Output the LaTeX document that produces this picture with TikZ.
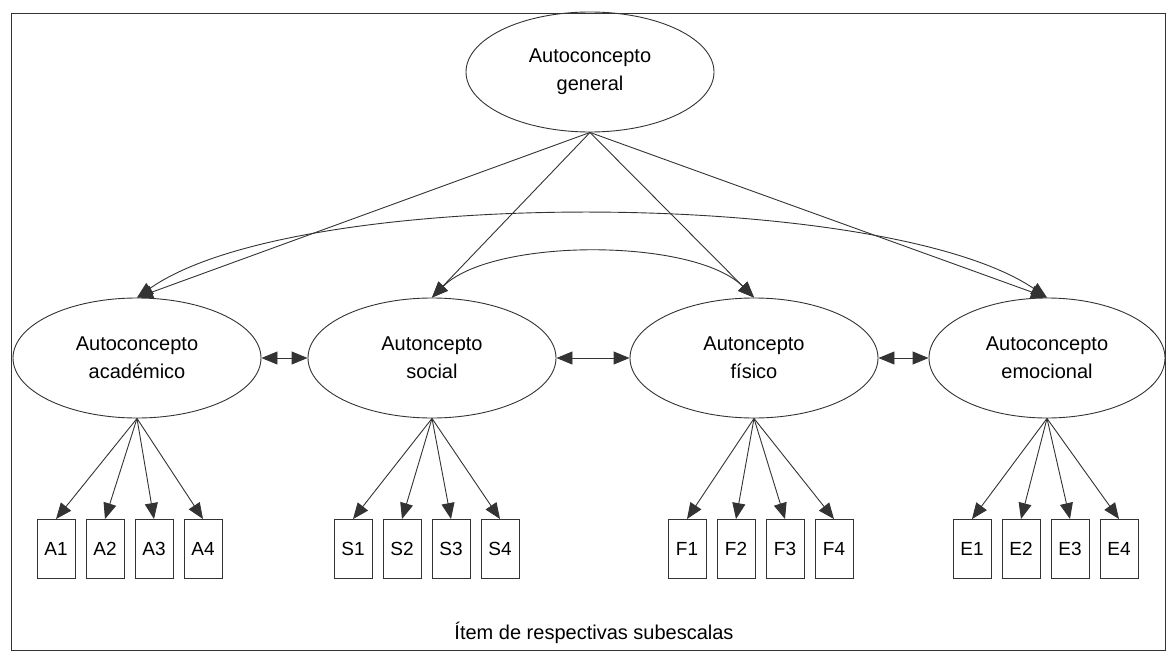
\documentclass[tikz,border=0pt]{standalone}
\usepackage{fontspec}
\setmainfont{Liberation Sans}
\usetikzlibrary{shapes.geometric,arrows.meta}

\begin{document}
\begin{tikzpicture}[x=1pt,y=-1pt,
  latente/.style={draw=black!80,line width=.9pt,ellipse,minimum width=248pt,minimum height=120pt,inner sep=0pt,align=center,font=\fontsize{20}{28}\selectfont},
  item/.style={draw=black!80,line width=.9pt,rectangle,minimum width=38pt,minimum height=59pt,inner sep=0pt,font=\fontsize{19}{23}\selectfont},
  flecha/.style={black!80,line width=.9pt,-{Triangle[length=16pt,width=13pt]}},
  doble/.style={black!80,line width=.9pt,{Triangle[length=16pt,width=13pt]}-{Triangle[length=16pt,width=13pt]}}]
\useasboundingbox (0,0) rectangle (1168,653);
\draw[black!80,line width=.9pt] (11,13) rectangle (1165,650);

\node[latente] (gen) at (590,72) {Autoconcepto\\general};
\node[latente] (acad) at (137,358) {Autoconcepto\\académico};
\node[latente] (soc) at (432,358) {Autoncepto\\social};
\node[latente] (fis) at (754,358) {Autoncepto\\físico};
\node[latente,minimum width=236pt] (emo) at (1047,358) {Autoconcepto\\emocional};

\foreach \f in {acad,soc,fis,emo}
  \draw[flecha] (gen.south) -- (\f.north);

\draw[doble] (acad.north) .. controls +(160,-113) and +(-160,-109) .. (emo.north);
\draw[doble] (soc.north) .. controls +(60,-60) and +(-60,-60) .. (fis.north);

\draw[doble] (acad.east) -- (soc.west);
\draw[doble] (soc.east) -- (fis.west);
\draw[doble] (fis.east) -- (emo.west);

\foreach \f/\l/\x in {acad/A/56, soc/S/353, fis/F/687, emo/E/972}{
  \foreach \i in {1,...,4}{
    \node[item] (\l\i) at (\x+49*\i-49,549) {\l\i};
    \draw[flecha] (\f.south) -- (\l\i.north);
}}

\node[font=\fontsize{20}{24}\selectfont] (pie) at (594,633) {Ítem de respectivas subescalas};
\end{tikzpicture}
\end{document}
